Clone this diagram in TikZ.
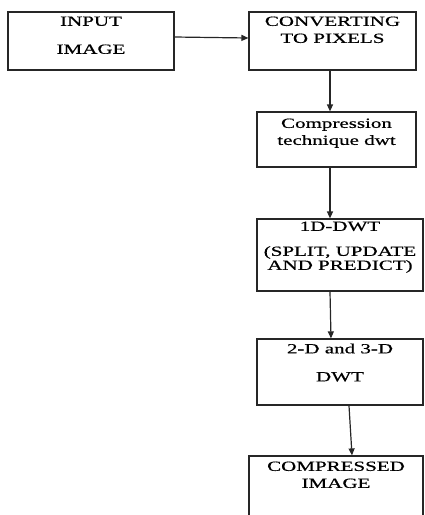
\documentclass[tikz,border=0pt]{standalone}
\usepackage{fontspec}
\setmainfont[FakeStretch=1.5,FakeBold=0.6]{Liberation Serif}
\usetikzlibrary{arrows.meta}

\begin{document}
\begin{tikzpicture}[x=1pt,y=-1pt,
  box/.style={draw=black!85,line width=1.2pt,inner sep=0pt},
  boxtext/.style={anchor=north,align=center,inner sep=0pt,yshift=-5pt,
    font=\fontsize{14}{17}\selectfont},
  flow/.style={-{Triangle[length=7pt,width=6pt]},line width=1.2pt,draw=black!85}]
\clip (0,0) rectangle (425,515);
\useasboundingbox (0,0) rectangle (425,515);

% Boxes
\node[box,minimum width=166,minimum height=58,
  label={[boxtext]north:{INPUT\\[11pt]IMAGE}}] (input) at (91,41) {};
\node[box,minimum width=167,minimum height=58,
  label={[boxtext]north:{CONVERTING\\TO PIXELS}}] (pixels) at (332.5,41) {};
\node[box,minimum width=159,minimum height=55,
  label={[boxtext,yshift=-2pt]north:{Compression\\technique dwt}}] (technique) at (336.5,139.5) {};
\node[box,minimum width=166,minimum height=72,
  label={[boxtext,yshift=2pt]north:{1D-DWT\\[8pt](SPLIT, UPDATE\\[-3pt]AND PREDICT)}}] (dwtone) at (340,255) {};
\node[box,minimum width=166,minimum height=66,
  label={[boxtext]north:{2-D and 3-D\\[11pt]DWT}}] (dwtmulti) at (340,372) {};
\node[box,minimum width=174,minimum height=84,
  label={[boxtext,yshift=-1pt]north:{COMPRESSED\\IMAGE}}] (output) at (336,498) {};

% Connections
\draw[flow] ([yshift=4pt]input.east) -- ([yshift=3pt]pixels.west);
\draw[flow] ([xshift=-2.5pt]pixels.south) -- ([xshift=-6.5pt]technique.north);
\draw[flow] ([xshift=-6.5pt]technique.south) -- ([xshift=-10pt]dwtone.north);
\draw[flow] ([xshift=-10pt]dwtone.south) -- ([xshift=-9pt]dwtmulti.north);
\draw[flow] ([xshift=9pt]dwtmulti.south) -- ([xshift=16pt]output.north);
\end{tikzpicture}
\end{document}
